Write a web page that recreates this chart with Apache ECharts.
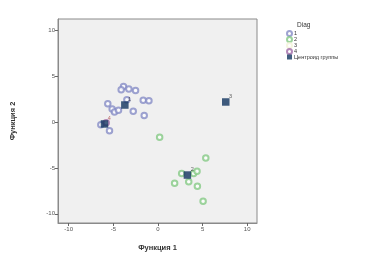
<!DOCTYPE html>
<html><head><meta charset="utf-8">
<script src="https://cdn.jsdelivr.net/npm/echarts@6/dist/echarts.min.js"></script>
<style>html,body{margin:0;padding:0;background:#fff}#c{width:367px;height:263px}</style>
</head><body><div id="c"></div>
<script>
const tickValues = [-10, -5, 0, 5, 10];
const group1X = [-3.86,-4.12,-3.26,-2.51,-5.62,-3.48,-1.65,-1.01,-5.13,-4.87,-4.42,-2.77,-1.54,-5.43,-6.4];
const group1Y = [3.86,3.5,3.57,3.43,1.99,2.42,2.35,2.31,1.41,1.08,1.26,1.16,0.69,-0.97,-0.3];
const group2X = [0.19,5.36,2.66,4.0,4.38,1.87,3.45,4.42,5.06];
const group2Y = [-1.66,-3.94,-5.6,-5.6,-5.38,-6.68,-6.5,-7.0,-8.63];
const group3X = [];
const group3Y = [];
const group4X = [-5.8];
const group4Y = [-0.1];
const centroidLabels = ['1','2','3','4'];
const centroidX = [-3.71, 3.30, 7.6, -5.99];
const centroidY = [1.84, -5.78, 2.17, -0.22];
const legendNames = ['1','2','3','4','Центроид группы'];

const zip = (a,b)=>a.map((v,i)=>[v,b[i]]);
const font = 'Liberation Sans, Arial, sans-serif';
const chart = echarts.init(document.getElementById('c'), null, {renderer:'canvas'});
function circleSeries(name, xs, ys, color){
  return {name, type:'scatter', symbol:'emptyCircle', symbolSize:5.5,
    itemStyle:{color:color, borderColor:color, borderWidth:0.8},
    data: zip(xs, ys), z:2};
}
const axisCommon = {
  axisLine:{show:true, onZero:false, lineStyle:{color:'#8a8a8a', width:1}},
  axisTick:{show:true, length:3, inside:false, lineStyle:{color:'#666'}, customValues: tickValues},
  axisLabel:{fontSize:6, color:'#555', fontFamily:font, margin:3, customValues: tickValues},
  splitLine:{show:false},
  nameLocation:'middle',
  nameTextStyle:{fontSize:7.5, fontWeight:'bold', color:'#333', fontFamily:font}
};
chart.setOption({
  animation:false,
  backgroundColor:'#fff',
  grid:{left:58, top:19, width:199, height:204, show:true, backgroundColor:'#f0f0f0', borderColor:'#8a8a8a', borderWidth:1},
  xAxis: Object.assign({type:'value', min:-11.2, max:11.1, name:'Функция 1', nameGap:21}, axisCommon),
  yAxis: Object.assign({type:'value', min:-11.0, max:11.2, name:'Функция 2', nameGap:41}, axisCommon),
  legend:{
    orient:'vertical', left:281, top:25, itemWidth:5, itemHeight:5, itemGap:-1,
    data: legendNames.map(n=>({name:n})),
    textStyle:{fontSize:5.5, color:'#333', fontFamily:font, padding:[0,0,0,-3]},
    selectedMode:false
  },
  graphic:[{type:'text', left:297, top:22, style:{text:'Diag', fontSize:6.5, fill:'#333', fontFamily:font}}],
  series:[
    circleSeries('1', group1X, group1Y, '#868cc6'),
    circleSeries('2', group2X, group2Y, '#85c985'),
    circleSeries('3', group3X, group3Y, '#f2f2d8'),
    circleSeries('4', group4X, group4Y, '#a06aa8'),
    {name:'Центроид группы', type:'scatter', symbol:'rect', symbolSize:7.5,
      itemStyle:{color:'#12345f'}, z:3,
      data: centroidX.map((x,i)=>({value:[x, centroidY[i]],
        label:{show:true, formatter:centroidLabels[i], position:[7,-5], fontSize:5.5,
          color: centroidLabels[i]==='4' ? '#b04a4a' : '#333', fontFamily:font}}))
    }
  ]
});
</script></body></html>
